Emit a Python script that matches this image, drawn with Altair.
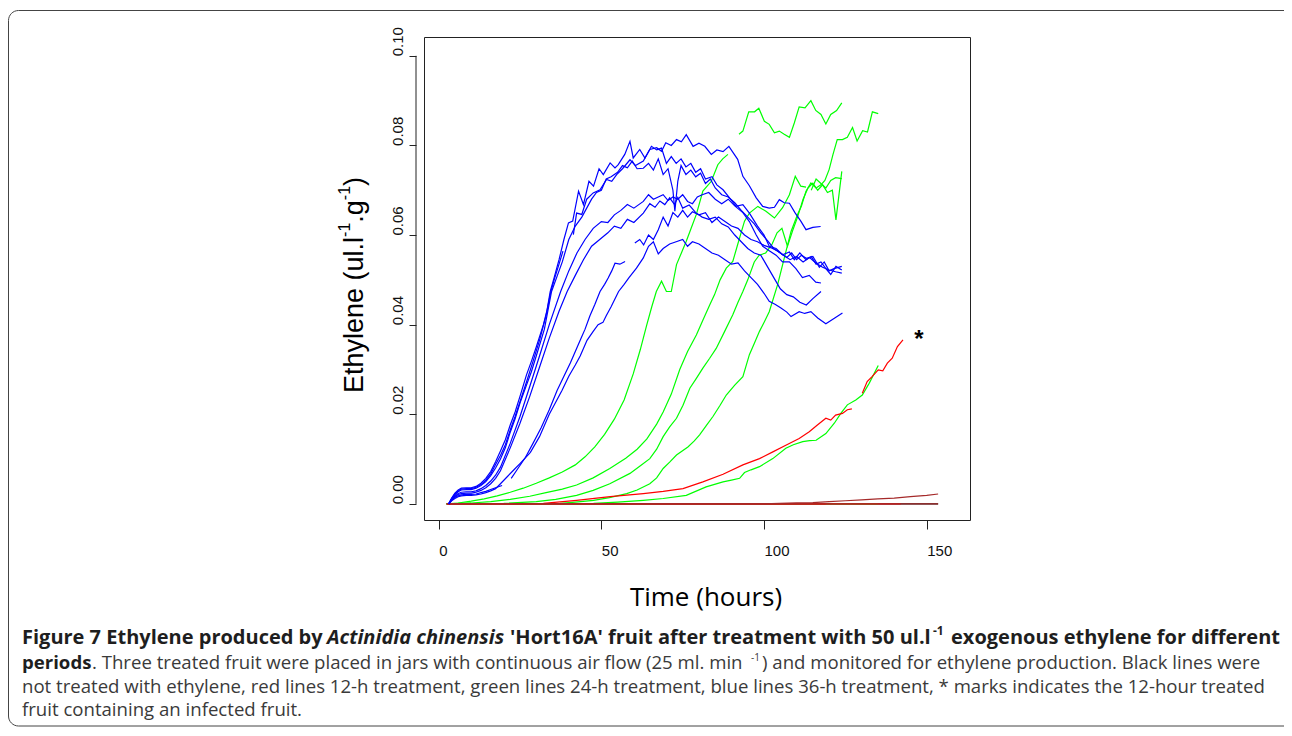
import altair as alt
import pandas as pd

# ---------------- data ----------------
X_TICKS = [0, 50, 100, 150]
Y_TICKS = [0.0, 0.02, 0.04, 0.06, 0.08, 0.10]
X_DOMAIN = [-4.5, 163.3]
Y_DOMAIN = [-0.0036, 0.1042]

# blue lines: 36-h treatment
B1_T = [3.1,4,5,6,7,8.5,10,11.5,13,14.5,16,17.5,19,20.5,22,23.5,25,27,28.5,30,32.2,33.3,34.3,35.5,37,38.5,39.9,41.2,43.0,44.5,46.2,47.6,49.3,50.6,52.7,54.2,55.2,57.2,58.8,59.8,61.8,63.4,65.4,67,68.5,70,71.5,73,74.5,76,77.5,79,80.5,82,84,85.5,87.4,89.4,91.4,93.5,95.5,98,100,101.6,103.7,105.7,107.8,109.3,111,112.9,114.5,116,117.5,119,120.5,122.1,123.9]
B1_V = [0,0.0013,0.0024,0.0031,0.0035,0.0036,0.0036,0.0039,0.0046,0.0057,0.0072,0.0094,0.0118,0.0143,0.0176,0.0205,0.0240,0.0288,0.0318,0.0350,0.0400,0.0432,0.0474,0.0505,0.0545,0.0590,0.0627,0.0631,0.0698,0.0668,0.0720,0.0709,0.0748,0.0735,0.0761,0.0750,0.0757,0.0780,0.0809,0.0772,0.0791,0.0772,0.0798,0.0790,0.0794,0.0760,0.0775,0.0760,0.0770,0.0752,0.0760,0.0740,0.0748,0.0725,0.0730,0.0712,0.0701,0.0683,0.0664,0.0668,0.0649,0.0620,0.0600,0.0575,0.0570,0.0556,0.0562,0.0545,0.0560,0.0545,0.0552,0.0535,0.0540,0.0525,0.0512,0.0530,0.0522]
B2A_T = [3.1,4,5,6,7,8.5,10,11.5,13,14.5,16,17.5,19,20.5,22,23.5,25,27,29,31,33.0,34.5,35.5,37,38.2]
B2A_V = [0,0.0012,0.0022,0.0029,0.0033,0.0034,0.0034,0.0037,0.0043,0.0053,0.0067,0.0088,0.0108,0.0132,0.0165,0.0195,0.0228,0.0272,0.0318,0.0365,0.0420,0.0474,0.0500,0.0535,0.0564]
B2B_T = [41.4,42.4,44,45.5,47.5,49.6,51.6,53.2,54.7,56.5,58.8,60.5,62.9,64.9,67.0,68.5,69.8,71.5,73.1,74.6,76.1,78.2,80.0,81.8,83.8,85.5,87.4,89.2,91.9,93.5,95.5,97.6,99.6,101.6,103.2,104.7,106.2,107.8,109.5,111.3,112.9,115.0,117.4]
B2B_V = [0.0601,0.0649,0.0646,0.0680,0.0694,0.0701,0.0724,0.0720,0.0735,0.0748,0.0768,0.0755,0.0765,0.0791,0.0795,0.0787,0.0806,0.0800,0.0813,0.0808,0.0824,0.0798,0.0805,0.0798,0.0780,0.0790,0.0786,0.0798,0.0769,0.0731,0.0710,0.0683,0.0664,0.0660,0.0662,0.0679,0.0672,0.0671,0.0650,0.0631,0.0612,0.0617,0.0619]
B3_T = [3.1,4,5,6,7,8.5,10,11.5,13,14.5,16,17.5,19,20.5,22,23.5,25,27,28.5,30,32.5,34.7,36.5,38,40,42,44,45.5,47,48.5,50,51.5,53,55,56.5,58,59.5,61,62.9,64.5,66,67.5,69,70.5,72,72.6,73.5,74.5,76,77.5,79,80.5,82,83.5,85,87,89,91,93,95,97,99,101,103,105,107,108.5,110,111.5,113,115,117,118.5,120,121.5,123.9]
B3_V = [0,0.0011,0.0020,0.0027,0.0031,0.0032,0.0032,0.0035,0.0041,0.0050,0.0063,0.0080,0.0100,0.0125,0.0160,0.0190,0.0225,0.0265,0.0295,0.0330,0.0390,0.0474,0.0510,0.0540,0.0590,0.0620,0.0640,0.0660,0.0680,0.0695,0.0700,0.0725,0.0730,0.0740,0.0755,0.0750,0.0765,0.0748,0.0749,0.0760,0.0745,0.0770,0.0735,0.0748,0.0700,0.0653,0.0720,0.0755,0.0735,0.0745,0.0730,0.0738,0.0715,0.0725,0.0705,0.0690,0.0685,0.0672,0.0655,0.0640,0.0625,0.0605,0.0588,0.0570,0.0560,0.0550,0.0560,0.0545,0.0555,0.0548,0.0552,0.0528,0.0540,0.0520,0.0525,0.0530]
B4_T = [3.1,4,5,6,7,8.5,10,11.5,13,14.5,16,17.5,19,22,25,28,31,34,37.5,40,42.5,45,47.5,50,52,54,56,58,60,62.9,64.5,66,67.5,69,70.5,72,73.5,75,76.5,78,79.5,81,83,85,87,89,91,93.5,95.5,97.6,99.6,101.6,103.7,105.7,107.8,109.8,111.8,113.9,115.9,117.5]
B4_V = [0,0.0010,0.0017,0.0023,0.0026,0.0027,0.0027,0.0029,0.0034,0.0041,0.0051,0.0064,0.0082,0.0135,0.0195,0.0262,0.0330,0.0400,0.0474,0.0520,0.0560,0.0590,0.0615,0.0630,0.0628,0.0645,0.0655,0.0668,0.0660,0.0675,0.0690,0.0680,0.0685,0.0690,0.0677,0.0685,0.0680,0.0690,0.0675,0.0670,0.0685,0.0690,0.0695,0.0680,0.0670,0.0680,0.0665,0.0650,0.0630,0.0600,0.0575,0.0565,0.0555,0.0540,0.0540,0.0525,0.0505,0.0510,0.0495,0.0493]
B5_T = [3.1,4,5,6,7,8.5,10,11.5,13,14.5,16,17.5,19,22,25,28,31,34,37,39.5,42,44.5,47,49.5,52,54,56,58,60,62.9,64.9,66.5,68,69.5,71,72.5,73.5,75,77,79,81,83,85,87,89,91,93,95,97,99,101,103,105,107,109,111,113,115,117.5]
B5_V = [0,0.0009,0.0016,0.0021,0.0023,0.0024,0.0024,0.0026,0.0030,0.0036,0.0045,0.0057,0.0074,0.0125,0.0180,0.0240,0.0305,0.0370,0.0430,0.0474,0.0510,0.0545,0.0575,0.0590,0.0605,0.0620,0.0615,0.0635,0.0628,0.0649,0.0670,0.0662,0.0676,0.0668,0.0683,0.0668,0.0684,0.0660,0.0667,0.0650,0.0640,0.0635,0.0640,0.0625,0.0618,0.0600,0.0585,0.0570,0.0560,0.0555,0.0530,0.0505,0.0480,0.0467,0.0462,0.0450,0.0444,0.0458,0.0474]
B6A_T = [3.1,4,5,6,7,8.5,10,11.5,13,14.5,16,17.5,19.5]
B6A_V = [0,0.0008,0.0014,0.0018,0.0020,0.0021,0.0021,0.0022,0.0025,0.0028,0.0032,0.0036,0.0041]
B6B_T = [22.3,24,26.7,29,31.5,34,36.4,38.5,40.5,42,43.5,45,46.5,48,49.6,51,52.1,53.2,54.2,55.7,57.3]
B6B_V = [0.0057,0.0075,0.0104,0.0135,0.0170,0.0210,0.0253,0.0285,0.0315,0.0340,0.0365,0.0390,0.0420,0.0445,0.0474,0.0490,0.0504,0.0520,0.0537,0.0535,0.0541]
B6C_T = [60.3,61.8,63,64.5,66,67.5,69,70.5,72,73.5,75,76.5,78,80,82,84,86,88,90,92,94,96,98,100,102,104,106,108,110,112,114,116,118,120,122,123.9]
B6C_V = [0.0582,0.0590,0.0578,0.0600,0.0590,0.0612,0.0640,0.0620,0.0650,0.0640,0.0655,0.0640,0.0652,0.0645,0.0650,0.0628,0.0640,0.0630,0.0620,0.0615,0.0600,0.0590,0.0585,0.0577,0.0572,0.0565,0.0555,0.0545,0.0552,0.0540,0.0550,0.0537,0.0528,0.0522,0.0518,0.0515]
B7_T = [3.1,4,5,6,7,8.5,10,11.5,13,14.5,16,17.5,19,21,23,25,28.2,31,34,37.9,40,42,43.5,45.6,47.5,49,50.5,51.5,53,55.3,57,58.5,60.8,62.9,64.5,66,67.5,69,71,73,75,76.5,78,80,82,84,86,88,90,92,94,96,98,100,101.6,103.5,105.2,107,108.3,110.8,112.5,114.4,116.5,119,121.5,124.1]
B7_V = [0,0.0007,0.0012,0.0016,0.0018,0.0019,0.0019,0.0020,0.0022,0.0025,0.0029,0.0034,0.0045,0.0060,0.0075,0.0090,0.0115,0.0150,0.0200,0.0253,0.0285,0.0310,0.0330,0.0365,0.0385,0.0400,0.0405,0.0420,0.0440,0.0474,0.0490,0.0505,0.0526,0.0549,0.0575,0.0585,0.0558,0.0570,0.0580,0.0585,0.0590,0.0575,0.0585,0.0580,0.0570,0.0560,0.0555,0.0545,0.0535,0.0538,0.0520,0.0505,0.0490,0.0470,0.0452,0.0445,0.0437,0.0428,0.0418,0.0429,0.0425,0.0429,0.0415,0.0402,0.0414,0.0426]

# green lines: 24-h treatment
G1A_T = [2.5,6,10,14,18,22,26,30,34,38,42,45,48,51,54,57,59.8,62,63.9,65.5,66.9,68.5,70,71.5,73.1,74.6,76.1,77.6,79.2,81.2,83.8,85.8,87.3,88.9]
G1A_V = [0,0.0002,0.0006,0.0011,0.0018,0.0026,0.0035,0.0046,0.0058,0.0071,0.0087,0.0105,0.0127,0.0155,0.0189,0.0232,0.0290,0.0345,0.0398,0.0440,0.0474,0.0497,0.0474,0.0474,0.0534,0.0560,0.0586,0.0615,0.0646,0.0698,0.0720,0.0757,0.0770,0.0780]
G1B_T = [92.3,93.5,95.3,97.1,98.4,100.1,101.6,103.2,104.7,106.2,107.8,109.3,110.8,112.6,114.4,115.9,117.5,119,120.5,122.3,123.9]
G1B_V = [0.0825,0.0832,0.0875,0.0875,0.0883,0.0854,0.0847,0.0828,0.0832,0.0825,0.0818,0.0850,0.0886,0.0884,0.0900,0.0878,0.0869,0.0848,0.0869,0.0878,0.0895]
G2A_T = [2.5,10,16,22,28,33,38,42.4,47.5,52.6,57.5,61,64,67,69,71.5,74.1,76.5,79.2,81.2,83.3,84.8,86.5,88.4,90.4,92.5,94,95.5,98.1,100.6,103.2,105.7,107.8,109.6,111.3,112.9]
G2A_V = [0,0.0002,0.0005,0.0010,0.0017,0.0025,0.0033,0.0042,0.0058,0.0079,0.0102,0.0122,0.0145,0.0178,0.0205,0.0245,0.0300,0.0340,0.0377,0.0410,0.0444,0.0467,0.0500,0.0526,0.0541,0.0594,0.0631,0.0649,0.0664,0.0653,0.0638,0.0661,0.0690,0.0731,0.0709,0.0707]
G2B_T = [114.5,116,117.5,119,120.5,122,123.9]
G2B_V = [0.0700,0.0725,0.0715,0.0705,0.0722,0.0728,0.0726]
G3_T = [2.5,20,30,36,42.4,47.5,52.6,58.8,62,64.9,67,69,71,73.1,75.1,77.2,79.2,81.2,83.3,85.3,87.9,90.4,92,93.5,95,97,98.5,100.5,102.5,104,105.5,107.2,108.8,110.3,112,113.5,115,116.5,118,119.5,121,122.1,123.9]
G3_V = [0,0.0001,0.0005,0.0010,0.0019,0.0030,0.0045,0.0068,0.0085,0.0101,0.0122,0.0150,0.0172,0.0191,0.0220,0.0258,0.0280,0.0303,0.0325,0.0347,0.0385,0.0422,0.0450,0.0474,0.0500,0.0540,0.0555,0.0560,0.0580,0.0605,0.0615,0.0575,0.0610,0.0640,0.0680,0.0705,0.0716,0.0700,0.0712,0.0695,0.0700,0.0634,0.0742]
G4_T = [2.5,30,37.3,42,47.6,52.5,57.8,61,64.9,67,69,71,73.1,76.6,78.5,80.2,82.3,84.3,86.5,88.4,91,93.5,95.5,97,98.6,100,101.6,104.2,106.2,108.3,110.3,111.5,112.9,114.4,116,117.5,118.7,120,121.2,122.5,124.1,125.6,127.2,128.6,130.3,131.8,133.3,135.1]
G4_V = [0,0,0.0001,0.0004,0.0008,0.0014,0.0023,0.0031,0.0045,0.0058,0.0079,0.0093,0.0109,0.0127,0.0140,0.0154,0.0175,0.0195,0.0220,0.0243,0.0265,0.0284,0.0333,0.0358,0.0385,0.0405,0.0429,0.0490,0.0548,0.0608,0.0646,0.0665,0.0698,0.0716,0.0705,0.0712,0.0722,0.0746,0.0780,0.0813,0.0813,0.0818,0.0840,0.0810,0.0833,0.0830,0.0875,0.0871]
G5_T = [2.5,20,35,47.6,55,62.9,69,76.1,82.2,87.4,90,92.5,94,96,98.6,102.7,106.7,109,111.9,114,116,119,121.6,123.6,125.6,128.2,130.2,132.3,135.1]
G5_V = [0,0,0,0.0001,0.0004,0.0008,0.0012,0.0019,0.0038,0.0049,0.0053,0.0057,0.0070,0.0076,0.0083,0.0101,0.0124,0.0132,0.0139,0.0141,0.0142,0.0157,0.0180,0.0202,0.0221,0.0232,0.0243,0.0269,0.0309]
G6_T = [2.5, 135.0]
G6_V = [0.0, 0.0]

# red lines: 12-h treatment
R1A_T = [2.5,20,32.2,42.4,52.7,62.9,69,75.1,81.2,87.4,93.5,98.6,102.7,106.7,110.8,113.9,116.4,119,120.5,122,124.1,125.6,127]
R1A_V = [0,0,0.0001,0.0008,0.0016,0.0023,0.0028,0.0034,0.0049,0.0066,0.0087,0.0101,0.0116,0.0131,0.0146,0.0161,0.0176,0.0191,0.0187,0.0198,0.0202,0.0210,0.0212]
R1B_T = [130.2,131.7,133.2,135.1,136.5,137.9,139.4,141,142.7]
R1B_V = [0.0247,0.0273,0.0284,0.0299,0.0297,0.0314,0.0325,0.0351,0.0366]
R2_T = [2.5, 142.0]
R2_V = [0.0, 0.0]
R3_T = [2.5, 119.0]
R3_V = [0.0, 0.0]

# untreated / dark lines
K1_T = [2.5, 153.5]
K1_V = [0.0, 0.0]
N1_T = [2.5,100,104.7,110,115,120,125,130,135,140,145,150,153.5]
N1_V = [0,0,0.0001,0.0002,0.0003,0.0005,0.0007,0.0009,0.0011,0.0013,0.0016,0.0019,0.0022]
N2_T = [2.5, 153.5]
N2_V = [0.0, 0.0]

STAR_T = [147.6]
STAR_V = [0.0379]

SERIES = [
    ("K1", "black", [(K1_T, K1_V)]),
    ("G6", "green", [(G6_T, G6_V)]),
    ("R2", "red", [(R2_T, R2_V)]),
    ("R3", "red", [(R3_T, R3_V)]),
    ("N2", "brown", [(N2_T, N2_V)]),
    ("N1", "brown", [(N1_T, N1_V)]),
    ("G5", "green", [(G5_T, G5_V)]),
    ("R1", "red", [(R1A_T, R1A_V), (R1B_T, R1B_V)]),
    ("G1", "green", [(G1A_T, G1A_V), (G1B_T, G1B_V)]),
    ("G2", "green", [(G2A_T, G2A_V), (G2B_T, G2B_V)]),
    ("G3", "green", [(G3_T, G3_V)]),
    ("G4", "green", [(G4_T, G4_V)]),
    ("B1", "blue", [(B1_T, B1_V)]),
    ("B2", "blue", [(B2A_T, B2A_V), (B2B_T, B2B_V)]),
    ("B3", "blue", [(B3_T, B3_V)]),
    ("B4", "blue", [(B4_T, B4_V)]),
    ("B5", "blue", [(B5_T, B5_V)]),
    ("B6", "blue", [(B6A_T, B6A_V), (B6B_T, B6B_V), (B6C_T, B6C_V)]),
    ("B7", "blue", [(B7_T, B7_V)]),
]
COLORS = {"black": "#000000", "green": "#00FF00", "red": "#FF0000",
          "brown": "#A52A2A", "blue": "#0000FF"}
DRAW_ORDER = ["black", "green", "red", "brown", "blue"]

Y_TITLE = ["Ethylene (ul.l", "-1", ".g", "-1", ")"]
X_TITLE = "Time (hours)"
CAP1 = ["Figure 7 Ethylene produced by", "Actinidia chinensis",
        "'Hort16A' fruit after treatment with 50 ul.l", "-1",
        "exogenous ethylene for different"]
CAP2 = ["periods", ". Three treated fruit were placed in jars with continuous air flow (25 ml. min",
        "-1", ") and monitored for ethylene production. Black lines were"]
CAP3 = "not treated with ethylene, red lines 12-h treatment, green lines 24-h treatment, blue lines 36-h treatment, * marks indicates the 12-hour treated"
CAP4 = "fruit containing an infected fruit."

# ---------------- layout ----------------
W, H = 546, 483
PAD_L, PAD_T = 416, 29
TOTAL_W, TOTAL_H = 1276, 720
OX, OY = 424, 37   # page position of the plot origin

rows = []
for name, grp, segs in SERIES:
    for si, (T, V) in enumerate(segs):
        for t, v in zip(T, V):
            rows.append({"series": name, "grp": grp, "seg": f"{name}_{si}", "t": t, "v": v})
df = pd.DataFrame(rows)

XS = alt.Scale(domain=X_DOMAIN, nice=False, zero=False)
YS = alt.Scale(domain=Y_DOMAIN, nice=False, zero=False)
XAX = alt.Axis(values=X_TICKS, title=None, grid=False, domain=False, tickSize=9,
               tickColor="#222222", labelFont="Liberation Sans", labelFontSize=15,
               labelColor="#111111", labelAlign="left", labelPadding=14,
               labelFlush=False, labelOverlap=False)
YAX = alt.Axis(values=Y_TICKS, title=None, grid=False, domain=False, offset=8, tickSize=7,
               tickColor="#222222", labelFont="Liberation Sans", labelFontSize=15,
               labelColor="#111111", labelAngle=270, labelAlign="left",
               labelBaseline="bottom", labelPadding=4, format=".2f",
               labelFlush=False, labelOverlap=False)
X = alt.X("t:Q", scale=XS, axis=XAX)
Y = alt.Y("v:Q", scale=YS, axis=YAX)

layers = []
for g in DRAW_ORDER:
    layers.append(
        alt.Chart(df).transform_filter(alt.datum.grp == g)
        .mark_line(color=COLORS[g], strokeWidth=1.2, clip=True)
        .encode(x=X, y=Y, detail="seg:N", order="t:Q")
    )

# y axis line (R style, detached, from first to last tick)
yline = alt.Chart(pd.DataFrame({"v": [Y_TICKS[0]], "v2": [Y_TICKS[-1]]})).mark_rule(
    color="#222222", strokeWidth=1).encode(y=Y, y2="v2:Q", x=alt.value(-8))
layers.append(yline)

star = alt.Chart(pd.DataFrame({"t": STAR_T, "v": STAR_V, "s": ["*"]})).mark_text(
    font="Liberation Sans", fontSize=24, fontWeight="bold", color="#000000",
    align="center", baseline="middle", dy=6).encode(x=X, y=Y, text="s:N")
layers.append(star)


def txt(s, px, py, font="Open Sans", size=16, weight="normal", style="normal",
        angle=0, align="left", baseline="middle", color="#000000"):
    return alt.Chart(pd.DataFrame({"s": [s]})).mark_text(
        font=font, fontSize=size, fontWeight=weight, fontStyle=style, angle=angle,
        align=align, baseline=baseline, color=color).encode(
        text="s:N", x=alt.value(px), y=alt.value(py))


# y title with superscripts (rotated, built from Arial advance widths)
AW = {'E': 0.667, 't': 0.278, 'h': 0.556, 'y': 0.5, 'l': 0.222, 'e': 0.556, 'n': 0.556,
      ' ': 0.278, '(': 0.333, 'u': 0.556, '.': 0.278, '-': 0.333, '1': 0.556, 'g': 0.556, ')': 0.333}
yt_x = -69
yt_y = 356
big, small = 27, 16
for i, piece in enumerate(Y_TITLE):
    sup = piece == "-1"
    fs = small if sup else big
    layers.append(txt(piece, yt_x - (10 if sup else 0), yt_y, font="Liberation Sans",
                      size=fs, angle=270, color="#000000"))
    yt_y -= sum(AW.get(c, 0.55) for c in piece) * fs

layers.append(txt(X_TITLE, 282, 561, font="Open Sans", size=26, align="center"))

# caption (positions in page pixels, converted to plot coordinates)
L1, L2, L3, L4 = 638 - OY, 663 - OY, 687 - OY, 710 - OY
BOLD_C, REG_C = "#1e1e1e", "#3a3a3a"
FS1, FS2, FS3 = 20, 18.6, 18.6
layers.append(txt(CAP1[0], 22 - OX, L1, size=FS1, weight="bold", color=BOLD_C))
layers.append(txt(CAP1[1], 327 - OX, L1, size=FS1, weight="bold", style="italic", color=BOLD_C))
layers.append(txt(CAP1[2], 510 - OX, L1, size=FS1, weight="bold", color=BOLD_C))
layers.append(txt(CAP1[3], 933 - OX, L1 - 7, size=12, weight="bold", color=BOLD_C))
layers.append(txt(CAP1[4], 951 - OX, L1, size=FS1, weight="bold", color=BOLD_C))
layers.append(txt(CAP2[0], 22 - OX, L2, size=FS2, weight="bold", color=BOLD_C))
layers.append(txt(CAP2[1], 92 - OX, L2, size=FS2, color=REG_C))
layers.append(txt(CAP2[2], 751 - OX, L2 - 5, size=10, color=REG_C))
layers.append(txt(CAP2[3], 762 - OX, L2, size=FS2, color=REG_C))
layers.append(txt(CAP3, 22 - OX, L3, size=FS3, color=REG_C))
layers.append(txt(CAP4, 22 - OX, L4, size=FS3, color=REG_C))

# rounded outer frame
frame = alt.Chart(pd.DataFrame({"a": [0]})).mark_rect(
    cornerRadius=10, fillOpacity=0, stroke="#444444", strokeWidth=1).encode(
    x=alt.value(8.5 - OX), x2=alt.value(1320 - OX), y=alt.value(10.5 - OY), y2=alt.value(726 - OY))
layers.append(frame)

chart = alt.layer(*layers).properties(
    width=W, height=H,
    padding={"left": PAD_L, "top": PAD_T, "right": TOTAL_W - PAD_L - W, "bottom": TOTAL_H - PAD_T - H},
    autosize=alt.AutoSizeParams(type="none"),
    background="white",
).configure_view(stroke="#222222", strokeWidth=1)

chart.save("out.html", embed_options={"renderer": "svg", "actions": False})
